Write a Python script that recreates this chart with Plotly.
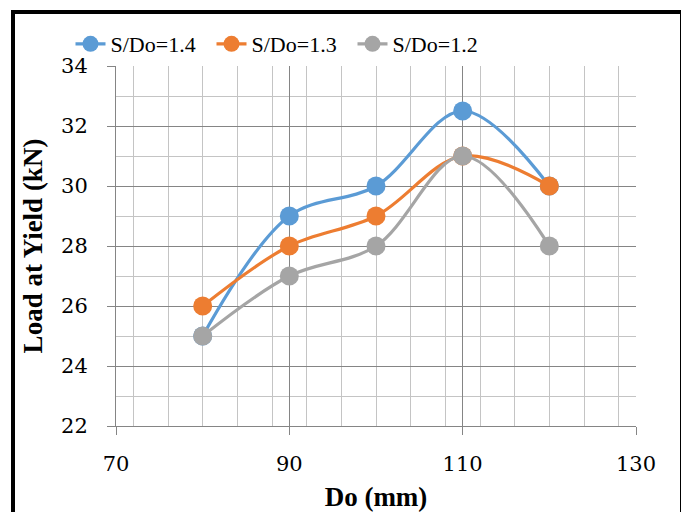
import plotly.graph_objects as go

do_mm = [80, 90, 100, 110, 120]
load_14 = [25, 29, 30, 32.5, 30]
load_13 = [26, 28, 29, 31, 30]
load_12 = [25, 27, 28, 31, 28]

series = [
    ("S/Do=1.4", load_14, "#5B9BD5"),
    ("S/Do=1.3", load_13, "#ED7D31"),
    ("S/Do=1.2", load_12, "#A5A5A5"),
]

fig = go.Figure()
for name, vals, col in series:
    fig.add_trace(go.Scatter(
        x=do_mm, y=vals, name=name, mode="lines+markers",
        line=dict(color=col, width=3.2, shape="spline", smoothing=1.0),
        marker=dict(color=col, size=19),
    ))

W, H = 681, 504
L, T = 108, 58
PW, PH = 520, 360
R = W - L - PW
B = H - T - PH

tick_font = dict(family="DejaVu Serif", size=21, color="#000000")
title_font = dict(family="Liberation Serif", size=27, color="#000000")

fig.update_layout(
    width=W, height=H,
    margin=dict(l=L, r=R, t=T, b=B, autoexpand=False),
    paper_bgcolor="white", plot_bgcolor="white",
    font=dict(family="Liberation Serif", size=22, color="#000000"),
    showlegend=True,
    legend=dict(orientation="h", xref="container", yref="container",
                x=274 / W, xanchor="center", y=1 - 36 / H, yanchor="middle",
                font=dict(family="Liberation Serif", size=22, color="#000000"),
                itemwidth=30, tracegroupgap=0, bgcolor="rgba(0,0,0,0)",
                entrywidth=96, entrywidthmode="pixels"),
    xaxis=dict(
        range=[70, 130], tick0=70, dtick=20, showgrid=True,
        gridcolor="#858585", gridwidth=1,
        ticks="outside", ticklen=8, tickcolor="#858585",
        ticklabelstandoff=11,
        showline=True, linecolor="#858585", linewidth=1, mirror=False,
        zeroline=False,
        minor=dict(dtick=4, showgrid=True, gridcolor="#C4C4C4", gridwidth=1),
        title=dict(text="<b>Do (mm)</b>", font=title_font, standoff=15),
        tickfont=tick_font,
    ),
    yaxis=dict(
        range=[22, 34], tick0=22, dtick=2, showgrid=True,
        gridcolor="#858585", gridwidth=1,
        ticks="outside", ticklen=8, tickcolor="#858585",
        ticklabelstandoff=15,
        showline=True, linecolor="#858585", linewidth=1,
        zeroline=False,
        minor=dict(dtick=1, showgrid=True, gridcolor="#C4C4C4", gridwidth=1),
        title=dict(text="<b>Load at Yield (kN)</b>", font=title_font, standoff=10),
        tickfont=tick_font,
    ),
)

def px_x(p):
    return (p - L) / PW

def px_y(p):
    return (T + PH - p) / PH

fig.add_shape(type="rect", xref="paper", yref="paper",
              x0=px_x(5), x1=px_x(674), y0=px_y(530), y1=px_y(4),
              line=dict(color="black", width=4), layer="above")
fig.add_shape(type="line", xref="paper", yref="paper",
              x0=px_x(676.5), x1=px_x(676.5), y0=px_y(530), y1=px_y(7),
              line=dict(color="black", width=4), layer="above")

fig.write_html("out.html")
